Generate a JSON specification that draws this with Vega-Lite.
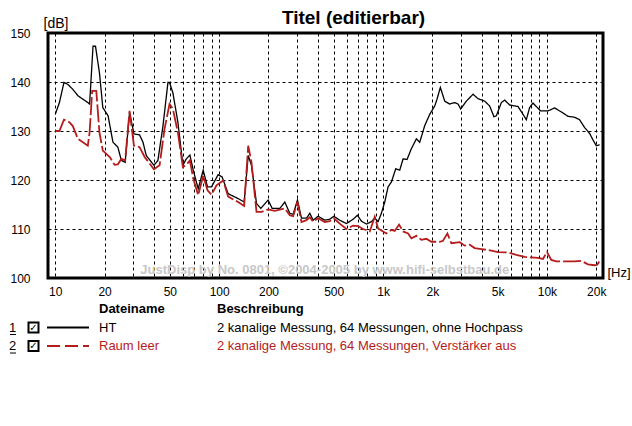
{
  "$schema": "https://vega.github.io/schema/vega-lite/v6.json",
  "width": 555,
  "height": 245,
  "autosize": {"type": "none"},
  "padding": {"left": 48, "top": 33, "right": 29, "bottom": 148},
  "background": "white",
  "title": {
    "text": "Titel (editierbar)",
    "font": "Liberation Sans",
    "fontSize": 19,
    "fontWeight": "bold",
    "color": "black",
    "anchor": "middle",
    "frame": "group",
    "dx": 28,
    "dy": 16,
    "offset": 4
  },
  "config": {
    "view": {"stroke": "black", "strokeWidth": 3, "fill": "white"},
    "axis": {
      "labelFont": "Liberation Sans",
      "labelFontSize": 12,
      "labelColor": "black",
      "titleFont": "Liberation Sans",
      "titleColor": "black",
      "titleFontWeight": "normal",
      "domain": false,
      "ticks": false,
      "tickSize": 0,
      "gridColor": "black",
      "gridDash": [3, 3],
      "gridOpacity": 1,
      "gridWidth": 1,
      "labelOverlap": false,
      "labelFlush": false
    },
    "text": {"font": "Liberation Sans"}
  },
  "datasets": {
    "curves": [
      {"series": "HT", "f": 10, "db": 133.4},
      {"series": "HT", "f": 10.6, "db": 135.8},
      {"series": "HT", "f": 11.3, "db": 139.9},
      {"series": "HT", "f": 11.95, "db": 139.5},
      {"series": "HT", "f": 12.8, "db": 138.5},
      {"series": "HT", "f": 13.75, "db": 137.2},
      {"series": "HT", "f": 15.8, "db": 135.8},
      {"series": "HT", "f": 16.2, "db": 135.5},
      {"series": "HT", "f": 17.0, "db": 147.3},
      {"series": "HT", "f": 17.6, "db": 147.3},
      {"series": "HT", "f": 18.6, "db": 141.9},
      {"series": "HT", "f": 19.5, "db": 134.8},
      {"series": "HT", "f": 21.0, "db": 133.1},
      {"series": "HT", "f": 22.5, "db": 127.7},
      {"series": "HT", "f": 24.1, "db": 126.7},
      {"series": "HT", "f": 25.3, "db": 124.0},
      {"series": "HT", "f": 26.7, "db": 123.6},
      {"series": "HT", "f": 28.4, "db": 133.8},
      {"series": "HT", "f": 30.2, "db": 129.4},
      {"series": "HT", "f": 32.7, "db": 129.2},
      {"series": "HT", "f": 34.3, "db": 127.7},
      {"series": "HT", "f": 35.9, "db": 125.0},
      {"series": "HT", "f": 40.0, "db": 123.0},
      {"series": "HT", "f": 42.3, "db": 124.0},
      {"series": "HT", "f": 45.4, "db": 131.0},
      {"series": "HT", "f": 48.7, "db": 139.9},
      {"series": "HT", "f": 49.8, "db": 139.9},
      {"series": "HT", "f": 52.2, "db": 137.8},
      {"series": "HT", "f": 56.0, "db": 131.8},
      {"series": "HT", "f": 60.1, "db": 123.0},
      {"series": "HT", "f": 63.0, "db": 124.3},
      {"series": "HT", "f": 66.3, "db": 125.1},
      {"series": "HT", "f": 69.5, "db": 122.0},
      {"series": "HT", "f": 74.5, "db": 118.2},
      {"series": "HT", "f": 79.9, "db": 122.0},
      {"series": "HT", "f": 84.9, "db": 118.6},
      {"series": "HT", "f": 89.8, "db": 118.6},
      {"series": "HT", "f": 98.6, "db": 121.1},
      {"series": "HT", "f": 104.3, "db": 120.6},
      {"series": "HT", "f": 113.5, "db": 117.2},
      {"series": "HT", "f": 130.6, "db": 116.2},
      {"series": "HT", "f": 142.1, "db": 115.5},
      {"series": "HT", "f": 150.4, "db": 125.0},
      {"series": "HT", "f": 157.5, "db": 123.0},
      {"series": "HT", "f": 169.0, "db": 115.2},
      {"series": "HT", "f": 179.6, "db": 114.2},
      {"series": "HT", "f": 199, "db": 115.9},
      {"series": "HT", "f": 210.6, "db": 114.2},
      {"series": "HT", "f": 234.6, "db": 114.2},
      {"series": "HT", "f": 251.6, "db": 115.5},
      {"series": "HT", "f": 269.8, "db": 113.2},
      {"series": "HT", "f": 282.8, "db": 113.0},
      {"series": "HT", "f": 300.5, "db": 115.9},
      {"series": "HT", "f": 317.9, "db": 112.2},
      {"series": "HT", "f": 341.1, "db": 112.2},
      {"series": "HT", "f": 357.4, "db": 113.2},
      {"series": "HT", "f": 374.5, "db": 111.8},
      {"series": "HT", "f": 401.8, "db": 112.6},
      {"series": "HT", "f": 441, "db": 111.8},
      {"series": "HT", "f": 473, "db": 112.0},
      {"series": "HT", "f": 501, "db": 112.6},
      {"series": "HT", "f": 544, "db": 111.8},
      {"series": "HT", "f": 598, "db": 111.1},
      {"series": "HT", "f": 657, "db": 112.0},
      {"series": "HT", "f": 698, "db": 112.8},
      {"series": "HT", "f": 738, "db": 111.6},
      {"series": "HT", "f": 792, "db": 111.0},
      {"series": "HT", "f": 849, "db": 111.5},
      {"series": "HT", "f": 890, "db": 112.2},
      {"series": "HT", "f": 933, "db": 111.5},
      {"series": "HT", "f": 977, "db": 113.2},
      {"series": "HT", "f": 1024, "db": 115.5},
      {"series": "HT", "f": 1073, "db": 118.6},
      {"series": "HT", "f": 1125, "db": 119.6},
      {"series": "HT", "f": 1195, "db": 122.3},
      {"series": "HT", "f": 1264, "db": 122.0},
      {"series": "HT", "f": 1325, "db": 124.3},
      {"series": "HT", "f": 1401, "db": 124.2},
      {"series": "HT", "f": 1489, "db": 126.4},
      {"series": "HT", "f": 1597, "db": 128.4},
      {"series": "HT", "f": 1674, "db": 127.7},
      {"series": "HT", "f": 1796, "db": 131.1},
      {"series": "HT", "f": 1926, "db": 133.4},
      {"series": "HT", "f": 2067, "db": 135.1},
      {"series": "HT", "f": 2135, "db": 136.5},
      {"series": "HT", "f": 2237, "db": 138.9},
      {"series": "HT", "f": 2378, "db": 136.1},
      {"series": "HT", "f": 2551, "db": 135.5},
      {"series": "HT", "f": 2736, "db": 135.8},
      {"series": "HT", "f": 2867, "db": 135.5},
      {"series": "HT", "f": 2977, "db": 134.5},
      {"series": "HT", "f": 3225, "db": 136.1},
      {"series": "HT", "f": 3540, "db": 137.5},
      {"series": "HT", "f": 3797, "db": 136.6},
      {"series": "HT", "f": 4170, "db": 136.1},
      {"series": "HT", "f": 4472, "db": 135.1},
      {"series": "HT", "f": 4753, "db": 132.9},
      {"series": "HT", "f": 4912, "db": 133.1},
      {"series": "HT", "f": 5271, "db": 135.8},
      {"series": "HT", "f": 5523, "db": 136.3},
      {"series": "HT", "f": 5924, "db": 135.3},
      {"series": "HT", "f": 6660, "db": 135.0},
      {"series": "HT", "f": 7145, "db": 133.4},
      {"series": "HT", "f": 7484, "db": 132.3},
      {"series": "HT", "f": 7844, "db": 134.8},
      {"series": "HT", "f": 8218, "db": 135.7},
      {"series": "HT", "f": 8612, "db": 135.0},
      {"series": "HT", "f": 9153, "db": 134.1},
      {"series": "HT", "f": 10146, "db": 134.1},
      {"series": "HT", "f": 11143, "db": 134.7},
      {"series": "HT", "f": 12233, "db": 133.9},
      {"series": "HT", "f": 13440, "db": 133.0},
      {"series": "HT", "f": 14757, "db": 132.8},
      {"series": "HT", "f": 15826, "db": 132.3},
      {"series": "HT", "f": 16980, "db": 130.7},
      {"series": "HT", "f": 18212, "db": 129.5},
      {"series": "HT", "f": 19085, "db": 128.2},
      {"series": "HT", "f": 19999, "db": 127.0},
      {"series": "HT", "f": 20955, "db": 127.2},
      {"series": "Raum leer", "f": 10, "db": 130.0},
      {"series": "Raum leer", "f": 10.6, "db": 130.0},
      {"series": "Raum leer", "f": 11.3, "db": 132.3},
      {"series": "Raum leer", "f": 12.2, "db": 131.8},
      {"series": "Raum leer", "f": 12.8, "db": 131.0},
      {"series": "Raum leer", "f": 13.75, "db": 128.4},
      {"series": "Raum leer", "f": 15.8, "db": 127.0},
      {"series": "Raum leer", "f": 16.2, "db": 129.7},
      {"series": "Raum leer", "f": 16.8, "db": 138.2},
      {"series": "Raum leer", "f": 17.8, "db": 138.2},
      {"series": "Raum leer", "f": 18.6, "db": 129.7},
      {"series": "Raum leer", "f": 19.5, "db": 126.0},
      {"series": "Raum leer", "f": 21.5, "db": 124.7},
      {"series": "Raum leer", "f": 23.0, "db": 123.1},
      {"series": "Raum leer", "f": 24.1, "db": 123.2},
      {"series": "Raum leer", "f": 25.3, "db": 124.3},
      {"series": "Raum leer", "f": 26.7, "db": 124.0},
      {"series": "Raum leer", "f": 28.4, "db": 134.1},
      {"series": "Raum leer", "f": 30.2, "db": 127.0},
      {"series": "Raum leer", "f": 32.7, "db": 126.7},
      {"series": "Raum leer", "f": 35.1, "db": 124.7},
      {"series": "Raum leer", "f": 40.0, "db": 122.2},
      {"series": "Raum leer", "f": 43.3, "db": 123.0},
      {"series": "Raum leer", "f": 46.4, "db": 130.4},
      {"series": "Raum leer", "f": 49.8, "db": 135.5},
      {"series": "Raum leer", "f": 52.2, "db": 134.5},
      {"series": "Raum leer", "f": 56.0, "db": 129.7},
      {"series": "Raum leer", "f": 60.1, "db": 122.6},
      {"series": "Raum leer", "f": 63.0, "db": 123.1},
      {"series": "Raum leer", "f": 66.3, "db": 124.0},
      {"series": "Raum leer", "f": 69.5, "db": 120.3},
      {"series": "Raum leer", "f": 74.5, "db": 116.9},
      {"series": "Raum leer", "f": 79.9, "db": 120.9},
      {"series": "Raum leer", "f": 84.9, "db": 117.9},
      {"series": "Raum leer", "f": 89.8, "db": 117.0},
      {"series": "Raum leer", "f": 96.4, "db": 118.9},
      {"series": "Raum leer", "f": 105.8, "db": 119.9},
      {"series": "Raum leer", "f": 113.5, "db": 116.6},
      {"series": "Raum leer", "f": 130.6, "db": 115.5},
      {"series": "Raum leer", "f": 142.1, "db": 114.7},
      {"series": "Raum leer", "f": 150.4, "db": 127.0},
      {"series": "Raum leer", "f": 157.5, "db": 123.6},
      {"series": "Raum leer", "f": 169.0, "db": 113.5},
      {"series": "Raum leer", "f": 181.3, "db": 113.5},
      {"series": "Raum leer", "f": 199, "db": 114.0},
      {"series": "Raum leer", "f": 218.6, "db": 113.7},
      {"series": "Raum leer", "f": 251.6, "db": 114.2},
      {"series": "Raum leer", "f": 269.8, "db": 112.8},
      {"series": "Raum leer", "f": 282.8, "db": 112.6},
      {"series": "Raum leer", "f": 300.5, "db": 115.5},
      {"series": "Raum leer", "f": 317.9, "db": 111.4},
      {"series": "Raum leer", "f": 341.1, "db": 111.8},
      {"series": "Raum leer", "f": 357.4, "db": 112.4},
      {"series": "Raum leer", "f": 374.5, "db": 111.5},
      {"series": "Raum leer", "f": 401.8, "db": 112.2},
      {"series": "Raum leer", "f": 441, "db": 111.4},
      {"series": "Raum leer", "f": 473, "db": 111.6},
      {"series": "Raum leer", "f": 501, "db": 112.2},
      {"series": "Raum leer", "f": 544, "db": 111.1},
      {"series": "Raum leer", "f": 598, "db": 110.0},
      {"series": "Raum leer", "f": 657, "db": 110.7},
      {"series": "Raum leer", "f": 704, "db": 110.6},
      {"series": "Raum leer", "f": 755, "db": 110.0},
      {"series": "Raum leer", "f": 830, "db": 109.5},
      {"series": "Raum leer", "f": 890, "db": 112.5},
      {"series": "Raum leer", "f": 933, "db": 110.1},
      {"series": "Raum leer", "f": 1000, "db": 109.5},
      {"series": "Raum leer", "f": 1048, "db": 109.1},
      {"series": "Raum leer", "f": 1125, "db": 109.8},
      {"series": "Raum leer", "f": 1178, "db": 109.6},
      {"series": "Raum leer", "f": 1252, "db": 110.9},
      {"series": "Raum leer", "f": 1325, "db": 109.5},
      {"series": "Raum leer", "f": 1421, "db": 109.1},
      {"series": "Raum leer", "f": 1489, "db": 108.1},
      {"series": "Raum leer", "f": 1597, "db": 108.6},
      {"series": "Raum leer", "f": 1713, "db": 107.8},
      {"series": "Raum leer", "f": 1838, "db": 108.0},
      {"series": "Raum leer", "f": 1972, "db": 107.4},
      {"series": "Raum leer", "f": 2216, "db": 107.4},
      {"series": "Raum leer", "f": 2323, "db": 107.6},
      {"series": "Raum leer", "f": 2469, "db": 109.1},
      {"series": "Raum leer", "f": 2611, "db": 107.1},
      {"series": "Raum leer", "f": 2935, "db": 107.3},
      {"series": "Raum leer", "f": 3150, "db": 106.6},
      {"series": "Raum leer", "f": 3379, "db": 106.8},
      {"series": "Raum leer", "f": 3624, "db": 106.1},
      {"series": "Raum leer", "f": 3979, "db": 105.9},
      {"series": "Raum leer", "f": 4578, "db": 105.6},
      {"series": "Raum leer", "f": 5028, "db": 105.3},
      {"series": "Raum leer", "f": 5786, "db": 105.2},
      {"series": "Raum leer", "f": 6506, "db": 104.7},
      {"series": "Raum leer", "f": 7311, "db": 104.3},
      {"series": "Raum leer", "f": 8028, "db": 104.2},
      {"series": "Raum leer", "f": 8815, "db": 104.1},
      {"series": "Raum leer", "f": 9459, "db": 103.9},
      {"series": "Raum leer", "f": 10005, "db": 105.3},
      {"series": "Raum leer", "f": 10632, "db": 103.7},
      {"series": "Raum leer", "f": 11404, "db": 103.4},
      {"series": "Raum leer", "f": 12823, "db": 103.4},
      {"series": "Raum leer", "f": 14757, "db": 103.4},
      {"series": "Raum leer", "f": 16202, "db": 103.5},
      {"series": "Raum leer", "f": 17791, "db": 102.8},
      {"series": "Raum leer", "f": 19537, "db": 102.6},
      {"series": "Raum leer", "f": 20279, "db": 102.7},
      {"series": "Raum leer", "f": 20955, "db": 103.5}
    ],
    "notes": [
      {"text": "JustDisp by No. 0801, ©2004-2005 by www.hifi-selbstbau.de", "f": 441, "db": 101.6}
    ],
    "table": [
      {"nr": "h", "name": "Dateiname", "desc": "Beschreibung", "series": ""},
      {"nr": "1", "name": "HT", "desc": "2 kanalige Messung, 64 Messungen, ohne Hochpass", "series": "HT"},
      {"nr": "2", "name": "Raum leer", "desc": "2 kanalige Messung, 64 Messungen, Verstärker aus", "series": "Raum leer"}
    ]
  },
  "resolve": {"scale": {"x": "independent", "y": "independent"}},
  "layer": [
    {
      "layer": [
        {
          "data": {"name": "notes"},
          "mark": {"type": "text", "fontSize": 13, "fontWeight": "bold", "color": "#c8c8c8", "align": "center", "baseline": "middle"},
          "encoding": {
            "x": {"field": "f", "type": "quantitative"},
            "y": {"field": "db", "type": "quantitative"},
            "text": {"field": "text"}
          }
        },
        {
          "data": {"name": "curves"},
          "mark": {"type": "line", "clip": true},
          "encoding": {
            "x": {
              "field": "f", "type": "quantitative",
              "scale": {"type": "log", "domain": [9.03, 21980], "nice": false},
              "axis": {
                "values": [10,20,30,40,50,60,70,80,90,100,200,300,400,500,600,700,800,900,1000,2000,3000,4000,5000,6000,7000,8000,9000,10000,20000],
                "labelExpr": "indexof([10,20,50,100,200,500,1000,2000,5000,10000,20000], datum.value) >= 0 ? (datum.value >= 1000 ? (datum.value / 1000) + 'k' : '' + datum.value) : ''",
                "labelPadding": 8,
                "labelBaseline": "top",
                "title": "[Hz]",
                "titleFontSize": 13,
                "titleAnchor": "start",
                "titleAlign": "left",
                "titleBaseline": "middle",
                "titleX": 559,
                "titleY": -6
              }
            },
            "y": {
              "field": "db", "type": "quantitative",
              "scale": {"domain": [100, 150], "nice": false, "zero": false},
              "axis": {
                "values": [100, 110, 120, 130, 140, 150],
                "labelPadding": 18,
                "title": "[dB]",
                "titleFontSize": 14,
                "titleAngle": 0,
                "titleAlign": "left",
                "titleBaseline": "middle",
                "titleX": -5,
                "titleY": -10
              }
            },
            "color": {
              "field": "series", "type": "nominal",
              "scale": {"domain": ["HT", "Raum leer"], "range": ["black", "#b51c1c"]},
              "legend": null
            },
            "strokeDash": {
              "field": "series", "type": "nominal",
              "scale": {"domain": ["HT", "Raum leer"], "range": [[1, 0], [18, 3]]},
              "legend": null
            },
            "strokeWidth": {
              "field": "series", "type": "nominal",
              "scale": {"domain": ["HT", "Raum leer"], "range": [1.3, 1.8]},
              "legend": null
            }
          }
        }
      ]
    },
    {
      "data": {"name": "table"},
      "transform": [{"filter": "datum.nr === 'h'"}],
      "mark": {"type": "text", "fontSize": 13, "fontWeight": "bold", "align": "left", "baseline": "middle", "color": "black"},
      "encoding": {
        "x": {"datum": 6, "type": "quantitative", "scale": {"domain": [0,1,2,3,4,5,6,7], "range": [-38,-35.5,-32,-14.5,-1,41,51,169], "nice": false, "zero": false}, "axis": null},
        "y": {"field": "nr", "type": "nominal", "scale": {"type": "point", "domain": ["h","1","2"], "range": [276, 313], "padding": 0}, "axis": null},
        "text": {"field": "name"}
      }
    },
    {
      "data": {"name": "table"},
      "transform": [{"filter": "datum.nr === 'h'"}],
      "mark": {"type": "text", "fontSize": 13, "fontWeight": "bold", "align": "left", "baseline": "middle", "color": "black"},
      "encoding": {
        "x": {"datum": 7, "type": "quantitative", "scale": {"domain": [0,1,2,3,4,5,6,7], "range": [-38,-35.5,-32,-14.5,-1,41,51,169], "nice": false, "zero": false}, "axis": null},
        "y": {"field": "nr", "type": "nominal", "scale": {"type": "point", "domain": ["h","1","2"], "range": [276, 313], "padding": 0}, "axis": null},
        "text": {"field": "desc"}
      }
    },
    {
      "data": {"name": "table"},
      "transform": [{"filter": "datum.nr !== 'h'"}],
      "mark": {"type": "text", "fontSize": 13, "align": "left", "baseline": "middle"},
      "encoding": {
        "x": {"datum": 6, "type": "quantitative", "scale": {"domain": [0,1,2,3,4,5,6,7], "range": [-38,-35.5,-32,-14.5,-1,41,51,169], "nice": false, "zero": false}, "axis": null},
        "y": {"field": "nr", "type": "nominal", "scale": {"type": "point", "domain": ["h","1","2"], "range": [276, 313], "padding": 0}, "axis": null},
        "text": {"field": "name"},
        "color": {"condition": {"test": "datum.series === 'Raum leer'", "value": "#b51c1c"}, "value": "black"}
      }
    },
    {
      "data": {"name": "table"},
      "transform": [{"filter": "datum.nr !== 'h'"}],
      "mark": {"type": "text", "fontSize": 13, "align": "left", "baseline": "middle"},
      "encoding": {
        "x": {"datum": 7, "type": "quantitative", "scale": {"domain": [0,1,2,3,4,5,6,7], "range": [-38,-35.5,-32,-14.5,-1,41,51,169], "nice": false, "zero": false}, "axis": null},
        "y": {"field": "nr", "type": "nominal", "scale": {"type": "point", "domain": ["h","1","2"], "range": [276, 313], "padding": 0}, "axis": null},
        "text": {"field": "desc"},
        "color": {"condition": {"test": "datum.series === 'Raum leer'", "value": "#b51c1c"}, "value": "black"}
      }
    },
    {
      "data": {"name": "table"},
      "transform": [{"filter": "datum.nr !== 'h'"}],
      "mark": {"type": "text", "fontSize": 13, "align": "center", "baseline": "middle", "color": "black"},
      "encoding": {
        "x": {"datum": 1, "type": "quantitative", "scale": {"domain": [0,1,2,3,4,5,6,7], "range": [-38,-35.5,-32,-14.5,-1,41,51,169], "nice": false, "zero": false}, "axis": null},
        "y": {"field": "nr", "type": "nominal", "scale": {"type": "point", "domain": ["h","1","2"], "range": [276, 313], "padding": 0}, "axis": null},
        "text": {"field": "nr"}
      }
    },
    {
      "data": {"name": "table"},
      "transform": [{"filter": "datum.nr !== 'h'"}],
      "mark": {"type": "rule", "color": "black", "strokeWidth": 1, "yOffset": 7},
      "encoding": {
        "x": {"datum": 0, "type": "quantitative", "scale": {"domain": [0,1,2,3,4,5,6,7], "range": [-38,-35.5,-32,-14.5,-1,41,51,169], "nice": false, "zero": false}, "axis": null},
        "x2": {"datum": 2},
        "y": {"field": "nr", "type": "nominal", "scale": {"type": "point", "domain": ["h","1","2"], "range": [276, 313], "padding": 0}, "axis": null}
      }
    },
    {
      "data": {"name": "table"},
      "transform": [{"filter": "datum.nr !== 'h'"}],
      "mark": {"type": "point", "shape": "square", "filled": false, "stroke": "black", "fill": "white", "strokeWidth": 2, "size": 100, "opacity": 1},
      "encoding": {
        "x": {"datum": 3, "type": "quantitative", "scale": {"domain": [0,1,2,3,4,5,6,7], "range": [-38,-35.5,-32,-14.5,-1,41,51,169], "nice": false, "zero": false}, "axis": null},
        "y": {"field": "nr", "type": "nominal", "scale": {"type": "point", "domain": ["h","1","2"], "range": [276, 313], "padding": 0}, "axis": null}
      }
    },
    {
      "data": {"name": "table"},
      "transform": [{"filter": "datum.nr !== 'h'"}],
      "mark": {"type": "text", "font": "DejaVu Sans", "fontSize": 10, "fontWeight": "bold", "align": "center", "baseline": "middle", "color": "black"},
      "encoding": {
        "x": {"datum": 3, "type": "quantitative", "scale": {"domain": [0,1,2,3,4,5,6,7], "range": [-38,-35.5,-32,-14.5,-1,41,51,169], "nice": false, "zero": false}, "axis": null},
        "y": {"field": "nr", "type": "nominal", "scale": {"type": "point", "domain": ["h","1","2"], "range": [276, 313], "padding": 0}, "axis": null},
        "text": {"value": "✓"}
      }
    },
    {
      "data": {"name": "table"},
      "transform": [{"filter": "datum.nr !== 'h'"}],
      "mark": {"type": "rule"},
      "encoding": {
        "x": {"datum": 4, "type": "quantitative", "scale": {"domain": [0,1,2,3,4,5,6,7], "range": [-38,-35.5,-32,-14.5,-1,41,51,169], "nice": false, "zero": false}, "axis": null},
        "x2": {"datum": 5},
        "y": {"field": "nr", "type": "nominal", "scale": {"type": "point", "domain": ["h","1","2"], "range": [276, 313], "padding": 0}, "axis": null},
        "color": {"condition": {"test": "datum.series === 'Raum leer'", "value": "#b51c1c"}, "value": "black"},
        "strokeDash": {"condition": {"test": "datum.series === 'Raum leer'", "value": [13, 5]}, "value": [1, 0]},
        "strokeWidth": {"value": 2}
      }
    }
  ]
}
